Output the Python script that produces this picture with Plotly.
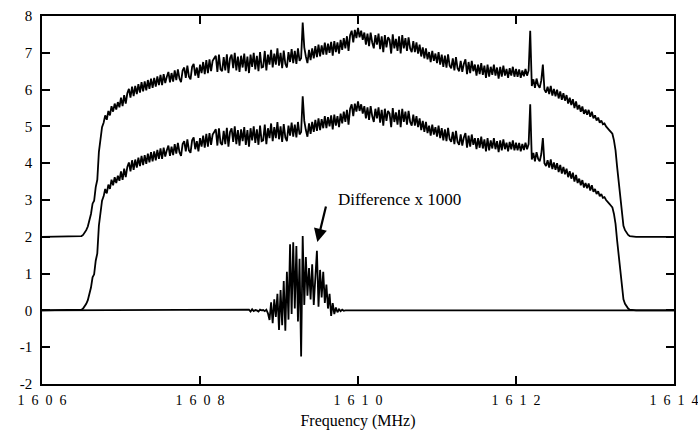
import numpy as np
import plotly.graph_objects as go

# Frequency grid (MHz), uniform sampling 0.02 MHz
freq_start = 1606.0
freq_step = 0.02
n_points = 401

# Measured spectrum (lower trace), 5 samples per 0.1 MHz row
spectrum = [
    0, 0, 0, 0, 0,
    0, 0, 0, 0, 0,
    0, 0, 0, 0, 0,
    0, 0, 0, 0, 0,
    0, 0, 0, 0, 0,
    0.02, 0.05, 0.10, 0.18, 0.28,
    0.45, 0.62, 0.90, 0.98, 1.35,
    1.55, 2.30, 2.62, 2.98, 3.10,
    3.30, 3.18, 3.42, 3.30, 3.55,
    3.40, 3.62, 3.46, 3.66, 3.52,
    3.78, 3.55, 3.85, 3.62, 3.90,
    4.02, 3.78, 4.08, 3.82, 4.10,
    3.88, 4.15, 3.92, 4.20, 3.95,
    4.22, 3.98, 4.26, 4.02, 4.30,
    4.05, 4.32, 4.08, 4.36, 4.12,
    4.40, 4.12, 4.42, 4.18, 4.35,
    4.48, 4.20, 4.45, 4.22, 4.52,
    4.26, 4.55, 4.30, 4.20, 4.52,
    4.60, 4.32, 4.65, 4.35, 4.28,
    4.62, 4.70, 4.38, 4.60, 4.32,
    4.68, 4.45, 4.75, 4.42, 4.80,
    4.45, 4.82, 4.50, 4.78, 4.85,
    4.92, 4.48, 4.95, 4.55, 4.50,
    4.88, 4.52, 4.96, 4.45, 4.85,
    4.95, 4.58, 5.00, 4.52, 4.90,
    4.48, 4.92, 4.60, 4.98, 4.50,
    4.90, 4.45, 4.95, 4.62, 5.00,
    4.55, 4.92, 4.50, 5.02, 4.60,
    4.62, 5.05, 4.52, 4.95, 4.68,
    5.08, 4.60, 4.98, 4.68, 5.12,
    4.65, 5.00, 4.58, 5.06, 4.70,
    4.60, 5.02, 4.75, 5.10, 4.72,
    5.05, 4.70, 5.12, 4.78, 4.85,
    5.82, 5.15, 4.90, 4.72, 5.08,
    4.80, 5.12, 4.85, 5.18, 4.88,
    5.22, 4.90, 5.20, 4.95, 5.28,
    4.95, 5.25, 5.00, 5.30, 4.92,
    5.32, 5.02, 5.28, 4.98, 5.35,
    5.08, 5.40, 5.12, 5.45, 5.05,
    5.48, 5.60, 5.28, 5.62, 5.40,
    5.68, 5.42, 5.60, 5.35, 5.55,
    5.22, 5.52, 5.18, 5.55, 5.28,
    5.12, 5.48, 5.22, 5.52, 5.10,
    5.45, 5.02, 5.48, 5.15, 5.42,
    5.35, 4.98, 5.50, 5.12, 5.38,
    5.05, 5.45, 4.98, 5.48, 5.12,
    5.40, 5.05, 5.42, 5.12, 5.02,
    5.32, 5.02, 5.28, 4.98, 5.22,
    4.90, 5.15, 4.85, 5.12, 4.82,
    5.02, 4.75, 5.05, 4.78, 4.98,
    4.72, 5.02, 4.68, 4.95, 4.62,
    4.92, 4.60, 4.96, 4.65, 4.58,
    4.85, 4.52, 4.88, 4.58, 4.50,
    4.78, 4.48, 4.70, 4.82, 4.42,
    4.75, 4.45, 4.78, 4.50, 4.68,
    4.38, 4.68, 4.42, 4.72, 4.40,
    4.65, 4.32, 4.68, 4.35, 4.62,
    4.40, 4.68, 4.38, 4.60, 4.30,
    4.62, 4.35, 4.65, 4.38, 4.56,
    4.32, 4.58, 4.38, 4.62, 4.35,
    4.56, 4.35, 4.55, 4.32, 4.52,
    4.36, 4.56, 4.38, 4.52, 5.60,
    4.10, 4.28, 4.05, 4.30, 4.12,
    4.05, 4.25, 4.68, 4.00, 3.92,
    4.08, 3.88, 4.10, 3.84, 4.02,
    3.82, 4.00, 3.76, 3.95, 3.72,
    3.90, 3.70, 3.85, 3.62, 3.78,
    3.58, 3.74, 3.50, 3.68, 3.46,
    3.58, 3.40, 3.54, 3.34, 3.46,
    3.32, 3.45, 3.26, 3.40, 3.22,
    3.30, 3.16, 3.24, 3.10, 3.16,
    3.06, 3.08, 3.00, 2.96, 2.90,
    2.85, 2.80, 2.62, 2.35, 1.90,
    1.45, 1.00, 0.55, 0.30, 0.18,
    0.10, 0.05, 0.02, 0.01, 0,
    0, 0, 0, 0, 0,
    0, 0, 0, 0, 0,
    0, 0, 0, 0, 0,
    0, 0, 0, 0, 0,
    0, 0, 0, 0, 0,
    0,
]

# Display offset of the upper copy of the spectrum
upper_offset = 2.0

# Difference x 1000 (samples from 1608.60 to 1609.84 MHz, step 0.02)
diff_start = 1608.60
diff_values = [
    0, 0.02, -0.03, 0.03, -0.02, 0.01, 0, -0.03, 0.02, 0,
    0.01, -0.02, 0.02, -0.08, -0.26, 0.22, -0.35, 0.30, -0.18, 0.45,
    -0.53, 0.55, -0.40, 0.80, -0.55, 1.05, -0.25, 1.80, -0.10, 1.85,
    0.05, 1.75, -0.30, 1.40, -1.25, 2.02, 0.15, 1.45, 0.40, 1.15,
    0.30, 1.25, 0.15, 0.95, 1.62, 0.10, 1.10, 0.35, 1.05, 0.20,
    0.70, 0.05, 0.45, -0.15, 0.20, -0.10, 0.08, -0.05, 0.03, -0.02,
    0.02, -0.01, 0,
]

x_tickvals = [1606, 1608, 1610, 1612, 1614]
x_ticktext = ["1\u20026\u20020\u20026", "1\u20026\u20020\u20028", "1\u20026\u20021\u20020",
              "1\u20026\u20021\u20022", "1\u20026\u20021\u20024"]
y_tickvals = [-2, -1, 0, 1, 2, 3, 4, 5, 6, 7, 8]
y_ticktext = ["-2", "-1", "0", "1", "2", "3", "4", "5", "6", "7", "8"]

freq = np.round(freq_start + freq_step * np.arange(n_points), 4)
spec = np.array(spectrum, dtype=float)

diff_freq = np.round(diff_start + freq_step * np.arange(len(diff_values)), 4)
diff_x = np.concatenate([[freq_start], diff_freq, [freq[-1]]])
diff_y = np.concatenate([[0.0], np.array(diff_values, dtype=float), [0.0]])

FONT = "Liberation Serif"
line_style = dict(color="black", width=1.8)

fig = go.Figure()
fig.add_trace(go.Scatter(x=freq, y=spec + upper_offset, mode="lines", line=line_style,
                         showlegend=False, hoverinfo="skip"))
fig.add_trace(go.Scatter(x=freq, y=spec, mode="lines", line=line_style,
                         showlegend=False, hoverinfo="skip"))
fig.add_trace(go.Scatter(x=diff_x, y=diff_y, mode="lines", line=line_style,
                         showlegend=False, hoverinfo="skip"))

fig.add_annotation(x=1610.52, y=3.02, xref="x", yref="y", text="Difference x 1000",
                   showarrow=False, font=dict(family=FONT, size=17, color="black"))
fig.add_annotation(x=1609.485, y=1.86, xref="x", yref="y", text="",
                   showarrow=True, ax=9, ay=-37, arrowhead=2, arrowsize=1.2,
                   arrowwidth=2.2, arrowcolor="black")

fig.update_layout(
    width=698, height=434,
    margin=dict(l=42, r=24, t=16, b=50),
    paper_bgcolor="white", plot_bgcolor="white",
    font=dict(family=FONT, size=14, color="black"),
    xaxis=dict(range=[1606, 1614], tickvals=x_tickvals, ticktext=x_ticktext,
               ticks="inside", ticklen=8, tickwidth=1.5, tickcolor="black",
               showline=True, linewidth=1.5, linecolor="black", mirror="ticks",
               showgrid=False, zeroline=False, automargin=False,
               ticklabeloverflow="allow", ticklabelstandoff=2,
               title=dict(text="Frequency (MHz)", font=dict(family=FONT, size=16, color="black"),
                          standoff=8),
               tickfont=dict(family=FONT, size=14)),
    yaxis=dict(range=[-2, 8], tickvals=y_tickvals, ticktext=y_ticktext,
               ticksuffix="\u2002",
               ticks="inside", ticklen=8, tickwidth=1.5, tickcolor="black",
               showline=True, linewidth=1.5, linecolor="black", mirror="ticks",
               showgrid=False, zeroline=False, ticklabelstandoff=5, automargin=False,
               ticklabeloverflow="allow",
               tickfont=dict(family=FONT, size=15)),
)

fig.write_html(
    "out.html",
    config={"displayModeBar": False},
    post_script="document.body.style.margin='0';document.body.style.overflow='hidden';",
)
